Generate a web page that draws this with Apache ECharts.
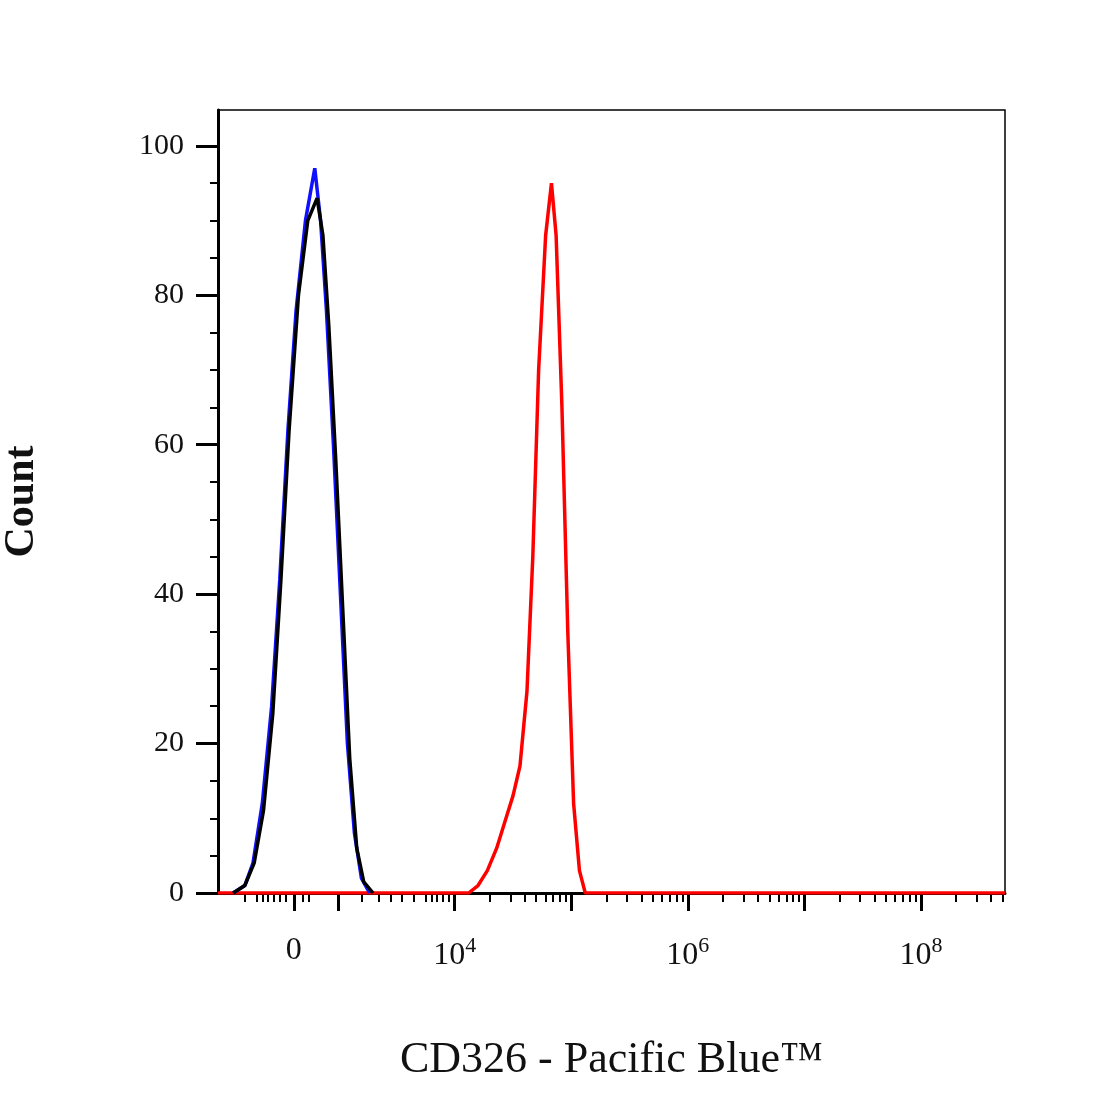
<!DOCTYPE html><html><head><meta charset="utf-8"><script src="https://cdn.jsdelivr.net/npm/echarts@6/dist/echarts.min.js"></script></head><body style="margin:0"><div id="c" style="width:1100px;height:1100px"></div><script>
const blue=[[2.10,0],[2.20,1],[2.27,4],[2.35,12],[2.43,25],[2.50,42],[2.57,62],[2.64,78],[2.72,90],[2.80,97],[2.85,90],[2.90,78],[2.96,60],[3.02,40],[3.08,20],[3.14,8],[3.20,2],[3.27,0]];
const black=[[2.10,0],[2.2,1],[2.28,4],[2.36,11],[2.44,24],[2.51,42],[2.58,62],[2.66,80],[2.74,90],[2.82,93],[2.87,88],[2.92,76],[2.98,58],[3.04,38],[3.10,18],[3.16,6],[3.22,1.5],[3.30,0]];
const red=[[1.97,0],[4.12,0],[4.20,1],[4.28,3],[4.36,6],[4.44,10],[4.50,13],[4.56,17],[4.62,27],[4.67,45],[4.72,70],[4.78,88],[4.83,95],[4.87,88],[4.92,65],[4.97,35],[5.02,12],[5.07,3],[5.12,0],[8.72,0]];
const xLabelPos=[2.62,4,6,8];
const xLabels={2.62:'0',4:'10{s|4}',6:'10{s|6}',8:'10{s|8}'};
const yTicks=[0,20,40,60,80,100];
const majorX=[2.62,3,4,5,6,7,8];
const minorX=[];
for(let d=4;d<9;d++)for(let k=2;k<=9;k++){const v=d+Math.log10(k);if(v<8.7)minorX.push(v);}
[2.2,2.3,2.35,2.4,2.45,2.5,2.55,2.7,2.75,3.2,3.35,3.45,3.55,3.65,3.75,3.8,3.85,3.9,3.95].forEach(v=>minorX.push(v));
const minorY=[];for(let v=0;v<=105;v+=5)minorY.push(v);
const font='Liberation Serif';
const c=echarts.init(document.getElementById('c'));
c.setOption({animation:false,
grid:{left:218,right:95,top:110,bottom:207,show:true,borderColor:'#000',borderWidth:1.5,outerBoundsMode:'none',containLabel:false},
xAxis:[{type:'value',min:1.97,max:8.72,axisLine:{lineStyle:{color:'#000',width:3}},splitLine:{show:false},
 axisTick:{customValues:majorX,length:18,lineStyle:{width:3,color:'#000'}},
 axisLabel:{customValues:xLabelPos,margin:42,formatter:v=>xLabels[v]||'',color:'#111',fontFamily:font,fontSize:32,rich:{s:{fontSize:22,verticalAlign:'top',padding:[0,0,20,0],fontFamily:font,color:'#111'}}},
 name:'CD326 - Pacific Blue™',nameLocation:'middle',nameGap:145,nameTextStyle:{fontFamily:font,fontSize:44,color:'#111'}},
 {type:'value',min:1.97,max:8.72,position:'bottom',axisLine:{show:false},splitLine:{show:false},axisLabel:{show:false},
 axisTick:{customValues:minorX,length:9,lineStyle:{width:2,color:'#000'}}}],
yAxis:[{type:'value',min:0,max:104.8,axisLine:{show:true,lineStyle:{color:'#000',width:3}},splitLine:{show:false},
 axisTick:{customValues:yTicks,length:22,lineStyle:{width:3,color:'#000'}},
 axisLabel:{customValues:yTicks,margin:34,color:'#111',fontFamily:font,fontSize:30,verticalAlign:'middle'},
 name:'Count',nameLocation:'middle',nameGap:175,nameTextStyle:{fontFamily:font,fontSize:42,fontWeight:'bold',color:'#111'}},
 {type:'value',min:0,max:104.8,position:'left',axisLine:{show:false},splitLine:{show:false},axisLabel:{show:false},
 axisTick:{show:true,customValues:minorY,length:8,lineStyle:{width:2,color:'#000'}}}],
series:[
{type:'line',data:red,showSymbol:false,lineStyle:{color:'#ff0000',width:3.5},z:2},
{type:'line',data:blue,showSymbol:false,lineStyle:{color:'#1010ff',width:3.5},z:3},
{type:'line',data:black,showSymbol:false,lineStyle:{color:'#000',width:3.5},z:4}]});
</script></body></html>
